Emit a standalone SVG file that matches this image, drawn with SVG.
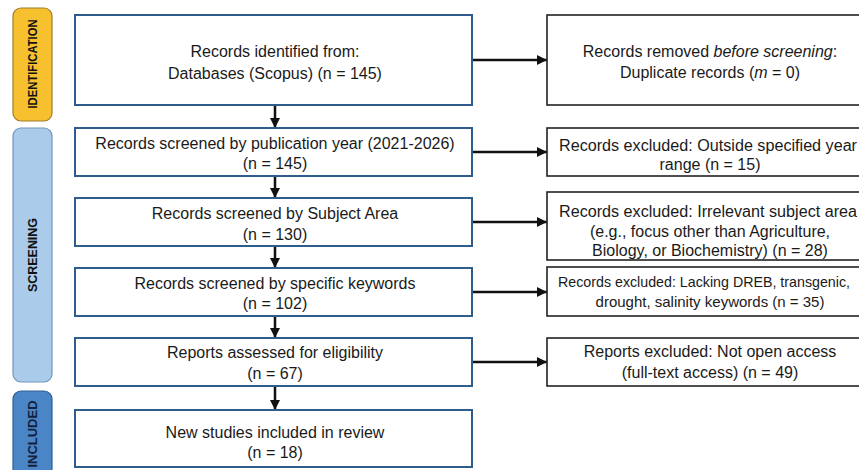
<svg xmlns="http://www.w3.org/2000/svg" width="859" height="470" viewBox="0 0 859 470">
<defs>
<style>
.lb{fill:#fff;stroke:#2E5C8C;stroke-width:2}
.rb{fill:#fff;stroke:#222;stroke-width:1.6}
.t{font-family:"Liberation Sans",Arial,sans-serif;font-size:16px;fill:#1a1a1a;text-anchor:middle}
.ts{font-family:"Liberation Sans",Arial,sans-serif;font-size:15px;fill:#1a1a1a;text-anchor:middle}
.side{font-family:"Liberation Sans",Arial,sans-serif;font-size:12px;font-weight:bold;text-anchor:middle}
.c{stroke:#111;stroke-width:2.5;fill:none}
</style>
<marker id="ah" viewBox="0 0 10 10" refX="10" refY="5" markerWidth="4" markerHeight="4.4" orient="auto" markerUnits="strokeWidth">
<path d="M0,0 L10,5 L0,10 Z" fill="#111"/>
</marker>
</defs>
<rect width="859" height="470" fill="#fff"/>

<g id="phase-identification">
<rect x="13" y="8" width="39" height="113" rx="8" fill="#F6C02E" stroke="#9E7D2C" stroke-width="1.2"/>
<text class="side" fill="#111" transform="translate(37,64) rotate(-90)" textLength="89" lengthAdjust="spacingAndGlyphs">IDENTIFICATION</text>
</g>
<g id="phase-screening">
<rect x="13" y="128" width="39" height="254" rx="8" fill="#AACBEA" stroke="#7096BC" stroke-width="1.2"/>
<text class="side" fill="#111" transform="translate(37,255) rotate(-90)" textLength="74" lengthAdjust="spacingAndGlyphs">SCREENING</text>
</g>
<g id="phase-included">
<rect x="13" y="391" width="39" height="95" rx="8" fill="#4A85C6" stroke="#2F5F95" stroke-width="1.2"/>
<text class="side" fill="#14213D" transform="translate(37,434) rotate(-90)" textLength="67" lengthAdjust="spacingAndGlyphs">INCLUDED</text>
</g>

<g id="connectors">
<line class="c" x1="275" y1="105" x2="275" y2="128" marker-end="url(#ah)"/>
<line class="c" x1="275" y1="176" x2="275" y2="198" marker-end="url(#ah)"/>
<line class="c" x1="275" y1="246" x2="275" y2="268" marker-end="url(#ah)"/>
<line class="c" x1="275" y1="316" x2="275" y2="338" marker-end="url(#ah)"/>
<line class="c" x1="275" y1="386" x2="275" y2="410" marker-end="url(#ah)"/>
<line class="c" x1="472" y1="60" x2="547" y2="60" marker-end="url(#ah)"/>
<line class="c" x1="472" y1="152" x2="547" y2="152" marker-end="url(#ah)"/>
<line class="c" x1="472" y1="222" x2="547" y2="222" marker-end="url(#ah)"/>
<line class="c" x1="472" y1="292" x2="547" y2="292" marker-end="url(#ah)"/>
<line class="c" x1="472" y1="362" x2="547" y2="362" marker-end="url(#ah)"/>
</g>

<g id="n-identified">
<rect class="lb" x="75" y="15" width="397" height="90"/>
<text class="t" x="275" y="57">Records identified from:</text>
<text class="t" x="275" y="79">Databases (Scopus) (n = 145)</text>
</g>
<g id="n-screen-year">
<rect class="lb" x="75" y="128" width="397" height="48"/>
<text class="t" x="275" y="149">Records screened by publication year (2021-2026)</text>
<text class="t" x="275" y="169">(n = 145)</text>
</g>
<g id="n-screen-subject">
<rect class="lb" x="75" y="198" width="397" height="48"/>
<text class="t" x="275" y="219">Records screened by Subject Area</text>
<text class="t" x="275" y="240">(n = 130)</text>
</g>
<g id="n-screen-keywords">
<rect class="lb" x="75" y="268" width="397" height="48"/>
<text class="t" x="275" y="289">Records screened by specific keywords</text>
<text class="t" x="275" y="309">(n = 102)</text>
</g>
<g id="n-eligibility">
<rect class="lb" x="75" y="338" width="397" height="48"/>
<text class="t" x="275" y="358">Reports assessed for eligibility</text>
<text class="t" x="275" y="379">(n = 67)</text>
</g>
<g id="n-included">
<rect class="lb" x="75" y="410" width="397" height="57"/>
<text class="t" x="275" y="438">New studies included in review</text>
<text class="t" x="275" y="458">(n = 18)</text>
</g>

<g id="r-duplicates">
<rect class="rb" x="547" y="15" width="330" height="90"/>
<text class="t" x="710" y="57">Records removed <tspan font-style="italic">before screening</tspan>:</text>
<text class="t" x="710" y="78">Duplicate records (<tspan font-style="italic">m</tspan> = 0)</text>
</g>
<g id="r-year">
<rect class="rb" x="547" y="128" width="330" height="48"/>
<text class="t" x="708" y="151" textLength="298" lengthAdjust="spacingAndGlyphs">Records excluded: Outside specified year</text>
<text class="t" x="710" y="170">range (n = 15)</text>
</g>
<g id="r-subject">
<rect class="rb" x="547" y="192" width="330" height="68"/>
<text class="t" x="708" y="217" textLength="298" lengthAdjust="spacingAndGlyphs">Records excluded: Irrelevant subject area</text>
<text class="t" x="710" y="237">(e.g., focus other than Agriculture,</text>
<text class="t" x="710" y="256">Biology, or Biochemistry) (n = 28)</text>
</g>
<g id="r-keywords">
<rect class="rb" x="547" y="267" width="330" height="49"/>
<text class="ts" x="704" y="287" font-size="14.5" textLength="292" lengthAdjust="spacingAndGlyphs">Records excluded: Lacking DREB, transgenic,</text>
<text class="ts" x="710" y="307">drought, salinity keywords (n = 35)</text>
</g>
<g id="r-access">
<rect class="rb" x="547" y="338" width="330" height="48"/>
<text class="t" x="710" y="357">Reports excluded: Not open access</text>
<text class="t" x="710" y="378">(full-text access) (n = 49)</text>
</g>
</svg>
